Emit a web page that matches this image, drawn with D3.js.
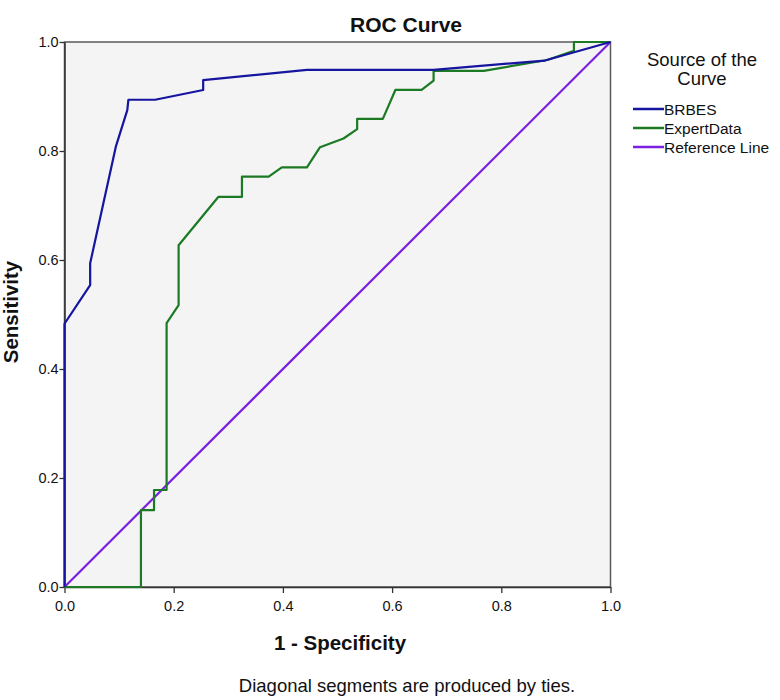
<!DOCTYPE html>
<html><head><meta charset="utf-8">
<script src="https://cdn.jsdelivr.net/npm/d3@7"></script>
<style>body{margin:0;background:#fff;}svg{display:block;font-family:"Liberation Sans",Arial,sans-serif;}</style>
</head><body>
<svg id="c" width="780" height="700"></svg>
<script>
const seriesNames = ["BRBES", "ExpertData", "Reference Line"];
const brbesFPR = [0, 0, 0.047, 0.047, 0.094, 0.115, 0.117, 0.166, 0.254, 0.254, 0.444, 0.676, 0.88, 1];
const brbesTPR = [0, 0.483, 0.554, 0.594, 0.808, 0.875, 0.894, 0.894, 0.912, 0.930, 0.949, 0.949, 0.966, 1];
const expertFPR = [0, 0.140, 0.140, 0.164, 0.164, 0.187, 0.187, 0.209, 0.209, 0.282, 0.325, 0.325, 0.374, 0.398, 0.444, 0.468, 0.511, 0.536, 0.536, 0.583, 0.606, 0.654, 0.676, 0.676, 0.768, 0.884, 0.933, 0.933, 1];
const expertTPR = [0, 0, 0.141, 0.141, 0.178, 0.178, 0.484, 0.517, 0.627, 0.716, 0.716, 0.753, 0.753, 0.770, 0.770, 0.807, 0.823, 0.840, 0.859, 0.859, 0.912, 0.912, 0.929, 0.947, 0.947, 0.967, 0.984, 1, 1];
const refFPR = [0, 1];
const refTPR = [0, 1];
const tickValues = [0, 0.2, 0.4, 0.6, 0.8, 1.0];
const colors = ["#1515a0", "#1b7a23", "#7b1fe0"];

const svg = d3.select("#c");
const L = 64.5, R = 610.5, T = 42, B = 587;
const x = d3.scaleLinear().domain([0, 1]).range([L, R]);
const y = d3.scaleLinear().domain([0, 1]).range([B, T]);

svg.append("rect").attr("x", L).attr("y", T).attr("width", R - L).attr("height", B - T)
  .attr("fill", "#f4f4f4").attr("stroke", "#5a5a5a").attr("stroke-width", 1.5);

const xAxis = svg.append("g").attr("transform", `translate(0,${B})`)
  .call(d3.axisBottom(x).tickValues(tickValues).tickFormat(d3.format(".1f")).tickSize(6).tickSizeOuter(0));
const yAxis = svg.append("g").attr("transform", `translate(${L},0)`)
  .call(d3.axisLeft(y).tickValues(tickValues).tickFormat(d3.format(".1f")).tickSize(5).tickSizeOuter(0));
[xAxis, yAxis].forEach(a => {
  a.select(".domain").attr("stroke", "#333").attr("stroke-width", 1.5);
  a.selectAll(".tick line").attr("stroke", "#333").attr("stroke-width", 1.3);
  a.selectAll("text").attr("font-size", 14.5).attr("fill", "#111");
});
xAxis.selectAll("text").attr("dy", "1.0em");
yAxis.selectAll("text").attr("dx", "0.15em");

const line = d3.line().x(d => x(d[0])).y(d => y(d[1]));
const data = [
  d3.zip(brbesFPR, brbesTPR),
  d3.zip(expertFPR, expertTPR),
  d3.zip(refFPR, refTPR)
];
[2, 1, 0].forEach(i => {
  svg.append("path").datum(data[i]).attr("d", line).attr("fill", "none")
    .attr("stroke", colors[i]).attr("stroke-width", 2.2).attr("stroke-linejoin", "round");
});

svg.append("text").attr("x", 406).attr("y", 32).attr("text-anchor", "middle")
  .attr("font-size", 21).attr("font-weight", "bold").attr("fill", "#111").text("ROC Curve");
svg.append("text").attr("x", 340).attr("y", 650).attr("text-anchor", "middle")
  .attr("font-size", 20.5).attr("font-weight", "bold").attr("fill", "#111").text("1 - Specificity");
svg.append("text").attr("transform", "translate(18,312) rotate(-90)").attr("text-anchor", "middle")
  .attr("font-size", 20.5).attr("font-weight", "bold").attr("fill", "#111").text("Sensitivity");
svg.append("text").attr("x", 407).attr("y", 692).attr("text-anchor", "middle")
  .attr("font-size", 18.5).attr("fill", "#111").text("Diagonal segments are produced by ties.");

svg.append("text").attr("x", 702).attr("y", 66).attr("text-anchor", "middle")
  .attr("font-size", 18.5).attr("fill", "#111").text("Source of the");
svg.append("text").attr("x", 702).attr("y", 85).attr("text-anchor", "middle")
  .attr("font-size", 18.5).attr("fill", "#111").text("Curve");
const lg = svg.append("g").selectAll("g").data(seriesNames).join("g")
  .attr("transform", (d, i) => `translate(633,${109 + i * 19})`);
lg.append("line").attr("x1", 0).attr("x2", 31).attr("stroke", (d, i) => colors[i]).attr("stroke-width", 2.5);
lg.append("text").attr("x", 31).attr("dy", "0.36em").attr("font-size", 15.5).attr("fill", "#111").text(d => d);
</script>
</body></html>
